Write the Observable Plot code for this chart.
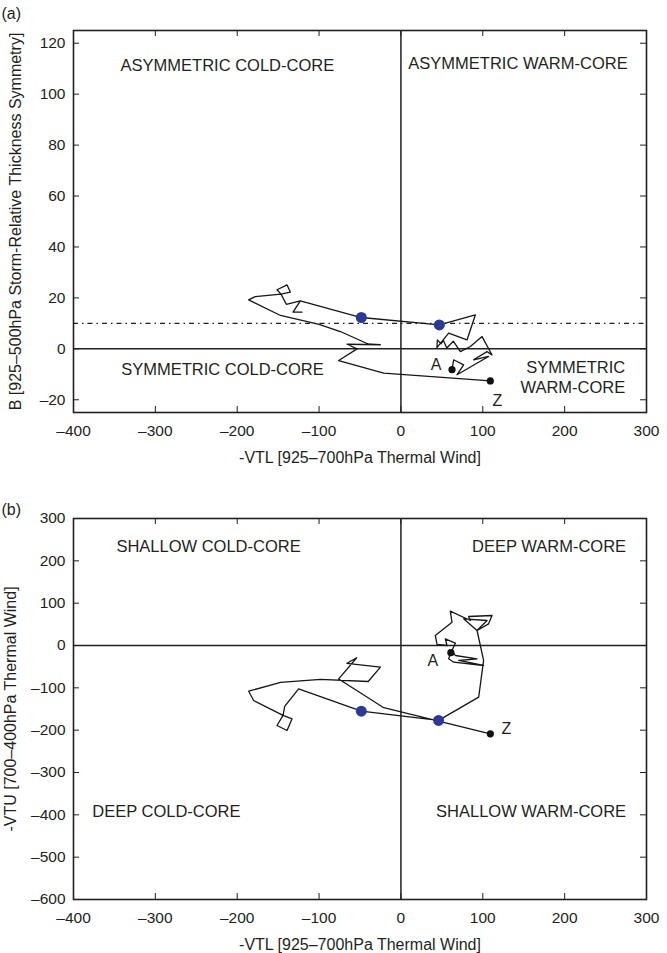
<!DOCTYPE html>
<html><head><meta charset="utf-8">
<script src="https://cdn.jsdelivr.net/npm/d3@7"></script>
<script src="https://cdn.jsdelivr.net/npm/@observablehq/plot@0.6"></script>
<style>body{margin:0;background:#fff} svg{display:block}</style>
</head><body><div id="chart"></div>
<script>
// ---------- data ----------
const xTicks = [-400, -300, -200, -100, 0, 100, 200, 300];
const yTicksA = [-20, 0, 20, 40, 60, 80, 100, 120];
const yTicksB = [-600, -500, -400, -300, -200, -100, 0, 100, 200, 300];
const symThreshold = 10;

// panel (a): -VTL vs B (time order, A = start, Z = end)
const aVTL = [62.4, 64.4, 76.6, 68.5, 107.1, 88.8, 105.2, 111.3, 99.1, 84.8, 72.6, 64, 56, 52, 49, 44.5, 44, 58.3, 80.7, 90.9, 46.9, -48.4, -122.9, -131.8, -120.8, -131.8, -122.9, -140, -146.5, -151.4, -139.1, -135.1, -146.5, -178, -186, -147.1, -100, -74, -39.4, -25.2, -65.8, -53.6, -76, -21.1, 109.2];
const aB = [-8.2, -4.3, -6.3, -10.2, -3.0, -4.3, -1.1, -2.4, 4.8, 0.9, -1.1, 3, 0.3, 3.3, 2, 3.5, 0.5, 6.2, 3.5, 13.3, 9.4, 12.3, 18.8, 14.4, 14.4, 14.4, 18.8, 17.5, 21.5, 23.2, 25.1, 22.3, 21.5, 20.5, 19.2, 13.1, 9.6, 6.8, 1.8, 1.6, 1.8, 0, -4.6, -9.5, -12.6];
const aHighlight = [20, 21];

// panel (b): -VTL vs -VTU
const bVTL = [61, 58.3, 64.4, 101, 70.5, 93, 66.5, 62.4, 66.5, 54.2, 56.3, 44.1, 42, 62.4, 60.3, 84.8, 82.7, 111.3, 107.1, 93, 76.6, 105.2, 93, 101, 95, 46, -48.4, -125, -142, -144, -151.4, -139.1, -133, -144, -180, -186, -147, -98, -40, -25, -66, -54, -76, -21, 109.2];
const bVTU = [-17, -31.4, -39.4, -47.2, -35.4, -31.4, -23.6, -11.8, 5.4, 15.8, 0, 2.4, 23.6, 55, 81, 59, 68.5, 70.9, 51.2, 35.4, 63, 59, 35.4, -35, -122, -177, -155.2, -102.4, -144, -165, -189, -200.8, -173.2, -165, -130, -108, -87, -80, -85, -51, -42, -29, -79, -147, -208.6];
const bHighlight = [25, 26];

const quadLabelsA = ["ASYMMETRIC COLD-CORE", "ASYMMETRIC WARM-CORE", "SYMMETRIC COLD-CORE"];
const quadLabelsA_x = [-212, 143, -218];
const quadLabelsA_y = [111, 112, -8.2];
const quadRightA = "SYMMETRIC\nWARM-CORE";
const quadRightA_x = 274, quadRightA_y = -11;

const quadLabelsB = ["SHALLOW COLD-CORE", "DEEP WARM-CORE", "DEEP COLD-CORE", "SHALLOW WARM-CORE"];
const quadLabelsB_x = [-235, 181, -286.5, 159];
const quadLabelsB_y = [234, 234, -392, -392];

const xLabel = "-VTL [925\u2013700hPa Thermal Wind]";
const yLabelA = "B [925\u2013500hPa Storm-Relative Thickness Symmetry]";
const yLabelB = "-VTU [700\u2013400hPa Thermal Wind]";

// ---------- drawing ----------
const INK = "#231f20";
const BLUE = "#2b3a96";
const fmt = d => d < 0 ? "\u2013" + (-d) : String(d);

function panel(o) {
  const W = 667;
  const fw = W - o.ml - o.mr, fh = o.h - o.mt - o.mb;
  const data = o.xs.map((x, i) => ({x, y: o.ys[i]}));
  const ends = [data[0], data[data.length - 1]];
  const blue = o.hi.map(i => data[i]);
  const quads = o.qt.map((t, i) => ({t, x: o.qx[i], y: o.qy[i]}));
  const marks = [
    Plot.frame({stroke: INK, strokeWidth: 1.6}),
    Plot.tickX(xTicks, {x: d => d, insetTop: fh - 6, stroke: INK, strokeWidth: 1}),
    Plot.tickX(xTicks, {x: d => d, insetBottom: fh - 6, stroke: INK, strokeWidth: 1}),
    Plot.tickY(o.yTicks, {y: d => d, insetRight: fw - 6, stroke: INK, strokeWidth: 1}),
    Plot.tickY(o.yTicks, {y: d => d, insetLeft: fw - 6, stroke: INK, strokeWidth: 1}),
    Plot.ruleX([0], {stroke: INK, strokeWidth: 1.5}),
    Plot.ruleY([0], {stroke: INK, strokeWidth: 1.5}),
  ];
  if (o.threshold != null) marks.push(Plot.ruleY([o.threshold], {stroke: INK, strokeWidth: 1.3, strokeDasharray: "5,4,1.5,4"}));
  marks.push(
    Plot.line(data, {x: "x", y: "y", stroke: "#161616", strokeWidth: 1.3}),
    Plot.dot(blue, {x: "x", y: "y", r: 5.5, fill: BLUE, stroke: "none"}),
    Plot.dot(ends, {x: "x", y: "y", r: 3.6, fill: "#111", stroke: "none"}),
    Plot.text([ends[0]], {x: "x", y: "y", text: () => "A", dx: o.adx, dy: o.ady, fontSize: 16, fill: INK}),
    Plot.text([ends[1]], {x: "x", y: "y", text: () => "Z", dx: o.zdx, dy: o.zdy, fontSize: 16, fill: INK}),
    Plot.text(quads, {x: "x", y: "y", text: "t", fontSize: 16.5, fill: INK}),
    Plot.text([o.xLabel], {text: d => d, frameAnchor: "bottom", dy: o.xLabelDy, textAnchor: "middle", lineAnchor: "middle", fontSize: 16, fill: INK}),
    Plot.text([o.yLabel], {text: d => d, frameAnchor: "left", dx: o.yLabelDx, rotate: -90, textAnchor: "middle", lineAnchor: "middle", fontSize: 16, fill: INK}),
    Plot.text([o.tag], {text: d => d, frameAnchor: "top-left", dx: -72, dy: o.tagDy, textAnchor: "start", lineAnchor: "middle", fontSize: 16, fill: INK})
  );
  if (o.extra) marks.push(o.extra);
  return Plot.plot({
    width: W, height: o.h,
    marginTop: o.mt, marginBottom: o.mb, marginLeft: o.ml, marginRight: o.mr,
    style: {fontFamily: "'Liberation Sans', Arial, Helvetica, sans-serif", fontSize: "15.5px", color: INK, background: "#fff"},
    x: {domain: [-400, 300], ticks: xTicks, tickSize: 0, tickPadding: 12, tickFormat: fmt, label: null},
    y: {domain: o.ydom, ticks: o.yTicks, tickSize: 0, tickPadding: 8, tickFormat: fmt, label: null},
    marks
  });
}

const chart = document.getElementById("chart");
chart.append(panel({
  h: 470, mt: 30, mb: 58, ml: 73, mr: 21,
  xs: aVTL, ys: aB, hi: aHighlight, ydom: [-25, 125], yTicks: yTicksA,
  threshold: symThreshold,
  qt: quadLabelsA, qx: quadLabelsA_x, qy: quadLabelsA_y,
  extra: Plot.text([quadRightA], {x: () => quadRightA_x, y: () => quadRightA_y, text: d => d, textAnchor: "end", lineHeight: 1.22, fontSize: 16.5, fill: INK}),
  adx: -16, ady: -5, zdx: 7, zdy: 20,
  xLabel, xLabelDy: 45, yLabel: yLabelA, yLabelDx: -58, tag: "(a)", tagDy: -17
}));
chart.append(panel({
  h: 483, mt: 48, mb: 54, ml: 73, mr: 21,
  xs: bVTL, ys: bVTU, hi: bHighlight, ydom: [-600, 300], yTicks: yTicksB,
  threshold: null,
  qt: quadLabelsB, qx: quadLabelsB_x, qy: quadLabelsB_y,
  adx: -18, ady: 8, zdx: 16, zdy: -5,
  xLabel, xLabelDy: 45, yLabel: yLabelB, yLabelDx: -63, tag: "(b)", tagDy: -9
}));
</script>
</body></html>
